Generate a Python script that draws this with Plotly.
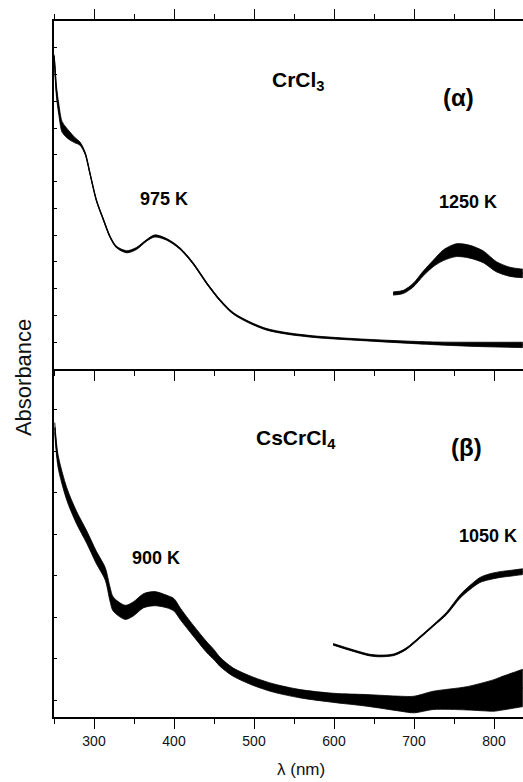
import plotly.graph_objects as go

# ---------------- data ----------------
# Top panel (alpha) : CrCl3, 975 K spectrum
lam_a975 = [250, 251, 253, 256, 260, 265, 270, 276, 282.5, 289, 295, 303, 312, 320, 328, 341,
            353, 366, 376, 391, 407.5, 424, 441, 457.5, 474, 495, 516, 541, 578, 641, 724, 780, 836]
abs_a975 = [11.7, 11.3, 10.4, 9.7, 9.05, 8.85, 8.7, 8.55, 8.42, 8.05, 7.3, 6.3, 5.56, 4.94, 4.56, 4.38,
            4.5, 4.81, 4.97, 4.84, 4.5, 3.94, 3.2, 2.57, 2.08, 1.73, 1.48, 1.33, 1.2, 1.08, 0.96, 0.92, 0.9]
noise_a975 = [0.05, 0.15, 0.2, 0.2, 0.2, 0.18, 0.15, 0.1, 0.06, 0.04, 0.03, 0.03, 0.03, 0.03, 0.03, 0.04,
              0.04, 0.03, 0.04, 0.03, 0.03, 0.03, 0.03, 0.03, 0.03, 0.03, 0.03, 0.03, 0.03, 0.03, 0.05, 0.08, 0.1]

# Top panel : CrCl3, 1250 K spectrum
lam_a1250 = [674, 686.7, 699, 711.7, 724, 736.7, 753, 770, 786.6, 803, 820, 836]
abs_a1250 = [2.82, 2.88, 3.13, 3.57, 3.94, 4.25, 4.44, 4.38, 4.19, 3.82, 3.63, 3.57]
noise_a1250 = [0.06, 0.06, 0.07, 0.09, 0.12, 0.2, 0.24, 0.24, 0.22, 0.19, 0.17, 0.16]

# Bottom panel (beta) : CsCrCl4, 900 K spectrum
lam_b900 = [251, 255, 266, 278, 291, 303, 314, 320, 324, 339, 349, 362, 376, 391, 400, 408, 424, 441,
            450, 458, 474, 499, 524, 558, 600, 641, 683, 700, 724, 766, 800, 808, 836]
abs_b900 = [6.57, 5.77, 4.97, 4.41, 3.93, 3.44, 3.05, 2.56, 2.32, 2.12, 2.2, 2.4, 2.45, 2.38, 2.3, 2.08,
            1.68, 1.28, 1.1, 0.92, 0.68, 0.46, 0.3, 0.16, 0.06, 0.0, -0.08, -0.1, 0.0, 0.05, 0.12, 0.16, 0.3]
noise_b900 = [0.12, 0.15, 0.15, 0.15, 0.15, 0.15, 0.15, 0.17, 0.17, 0.17, 0.17, 0.17, 0.17, 0.15, 0.15, 0.14,
              0.13, 0.13, 0.12, 0.11, 0.1, 0.1, 0.1, 0.1, 0.11, 0.14, 0.18, 0.2, 0.22, 0.28, 0.38, 0.4, 0.45]

# Bottom panel : CsCrCl4, 1050 K spectrum
lam_b1050 = [599, 624, 645, 658, 675, 690, 707.5, 724, 741, 757.5, 770, 782.5, 795, 807.5, 820, 836]
abs_b1050 = [1.35, 1.2, 1.09, 1.07, 1.1, 1.24, 1.52, 1.8, 2.1, 2.5, 2.72, 2.9, 2.98, 3.03, 3.06, 3.1]
noise_b1050 = [0.02, 0.02, 0.02, 0.02, 0.02, 0.02, 0.02, 0.02, 0.03, 0.04, 0.05, 0.06, 0.07, 0.07, 0.07, 0.07]

x_ticks = [300, 400, 500, 600, 700, 800]
x_minor_ticks = [250, 350, 450, 550, 650, 750, 850]
x_range = [250, 836.25]

FONT = "Arial, 'Liberation Sans', sans-serif"
BLACK = "#000000"

fig = go.Figure()


def add_curve(lam, vals, noise, xa, ya, width=1.3):
    upper = [v + n for v, n in zip(vals, noise)]
    lower = [v - n for v, n in zip(vals, noise)]
    fig.add_trace(go.Scatter(x=lam, y=upper, xaxis=xa, yaxis=ya, mode="lines",
                             line=dict(color=BLACK, width=0.8, shape="spline", smoothing=0.8),
                             hoverinfo="skip", showlegend=False))
    fig.add_trace(go.Scatter(x=lam, y=lower, xaxis=xa, yaxis=ya, mode="lines", fill="tonexty",
                             fillcolor=BLACK,
                             line=dict(color=BLACK, width=0.8, shape="spline", smoothing=0.8),
                             hoverinfo="skip", showlegend=False))
    fig.add_trace(go.Scatter(x=lam, y=vals, xaxis=xa, yaxis=ya, mode="lines",
                             line=dict(color=BLACK, width=width, shape="spline", smoothing=0.8),
                             showlegend=False))


add_curve(lam_a975, abs_a975, noise_a975, "x", "y")
add_curve(lam_a1250, abs_a1250, noise_a1250, "x", "y")
add_curve(lam_b900, abs_b900, noise_b900, "x2", "y2")
add_curve(lam_b1050, abs_b1050, noise_b1050, "x2", "y2")

common_x = dict(range=x_range, showline=True, linewidth=1.5, linecolor=BLACK,
                ticks="outside", ticklen=10, tickwidth=1.2, tickcolor=BLACK,
                tickmode="array", tickvals=x_ticks,
                minor=dict(ticks="outside", ticklen=5, tickwidth=1.2, tickcolor=BLACK,
                           tickmode="array", tickvals=x_minor_ticks),
                showgrid=False, zeroline=False)
common_y = dict(showline=True, linewidth=1.5, linecolor=BLACK, ticks="inside", ticklen=3,
                tickwidth=1, tickcolor=BLACK, dtick=1, tick0=0, showticklabels=False,
                showgrid=False, zeroline=False)

fig.update_layout(
    width=523, height=782,
    margin=dict(l=54, r=0, t=21, b=65),
    paper_bgcolor="white", plot_bgcolor="white",
    font=dict(family=FONT, color=BLACK),
    xaxis=dict(**common_x, domain=[0, 1], anchor="y", mirror="ticks", showticklabels=False),
    yaxis=dict(**common_y, domain=[0.5, 1], anchor="x", range=[0, 13]),
    xaxis2=dict(**common_x, domain=[0, 1], anchor="y2", matches="x",
                tickfont=dict(size=14, color="#111111", family=FONT)),
    yaxis2=dict(**common_y, domain=[0, 0.5], anchor="x2", range=[-0.4, 7.98]),
)

ann = []
bold = dict(family=FONT, color=BLACK)
ann.append(dict(x=556, y=10.75, xref="x", yref="y", text="<b>CrCl<sub>3</sub></b>",
                showarrow=False, font=dict(size=21, **bold)))
ann.append(dict(x=755, y=10.15, xref="x", yref="y", text="<b>(α)</b>",
                showarrow=False, font=dict(size=24, **bold)))
ann.append(dict(x=387.5, y=6.34, xref="x", yref="y", text="<b>975 K</b>",
                showarrow=False, font=dict(size=18, **bold)))
ann.append(dict(x=767.5, y=6.23, xref="x", yref="y", text="<b>1250 K</b>",
                showarrow=False, font=dict(size=18, **bold)))
ann.append(dict(x=553, y=6.3, xref="x2", yref="y2", text="<b>CsCrCl<sub>4</sub></b>",
                showarrow=False, font=dict(size=21, **bold)))
ann.append(dict(x=766, y=6.1, xref="x2", yref="y2", text="<b>(β)</b>",
                showarrow=False, font=dict(size=24, **bold)))
ann.append(dict(x=377.5, y=3.44, xref="x2", yref="y2", text="<b>900 K</b>",
                showarrow=False, font=dict(size=18, **bold)))
ann.append(dict(x=792.5, y=3.97, xref="x2", yref="y2", text="<b>1050 K</b>",
                showarrow=False, font=dict(size=18, **bold)))
ann.append(dict(x=559, y=-0.0915, xref="x2", yref="paper", text="λ (nm)", yanchor="bottom",
                showarrow=False, font=dict(size=17, family=FONT, color="#111111")))
ann.append(dict(x=-0.066, y=0.487, xref="paper", yref="paper", text="Absorbance", textangle=-90,
                xanchor="center", yanchor="middle",
                showarrow=False, font=dict(size=22, family=FONT, color="#111111")))
fig.update_layout(annotations=ann)

fig.write_html("out.html", config={"displayModeBar": False},
               post_script="document.body.style.margin='0';document.body.style.overflow='hidden';")
